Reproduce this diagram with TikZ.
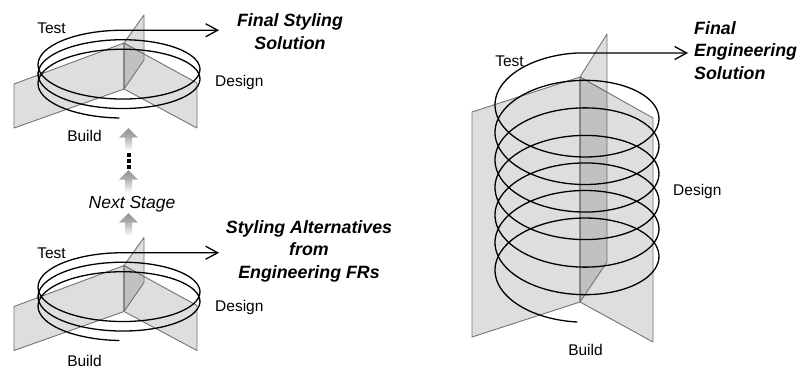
\documentclass[tikz,border=0pt]{standalone}
\usepackage{fontspec}
\setmainfont{Liberation Sans}
\usetikzlibrary{arrows.meta}
\tikzset{
  wing/.style={fill=black, fill opacity=0.13, draw=black!55, line width=0.9pt, line join=round},
  coil/.style={draw=black, line width=1.3pt, line cap=round, line join=round},
  outarrow/.style={-{Straight Barb[length=12pt,width=13pt,line width=1.3pt]}},
  lbl/.style={font=\fontsize{15.5}{18}\selectfont, inner sep=0pt, anchor=base},
  ttl/.style={font=\fontsize{17.8}{22.5}\selectfont\bfseries\itshape, inner sep=0pt, anchor=base},
  stagearrow/.pic={
    \shade[top color=black!30, bottom color=white] (-3.5,9) rectangle (3.5,23);
    \shade[top color=black!42, bottom color=black!32] (0,0) -- (9.5,9.5) -- (-9.5,9.5) -- cycle;
  }
}
\begin{document}
\begin{tikzpicture}[x=1pt,y=-1pt]
\useasboundingbox (0,0) rectangle (803,370);

% ---------- small cycle: final styling ----------
\begin{scope}
  \draw[wing] (14,84) -- (124,43) -- (124,89) -- (14,128) -- cycle;
  \draw[wing] (124,43) -- (197,83) -- (197,128) -- (124,89) -- cycle;
  \draw[wing] (124,43) -- (144,15) -- (144,60) -- (124,89) -- cycle;
  \coordinate (fsTip) at (219,30.25);
  \draw[coil, outarrow] plot[smooth, domain=0:15.708, samples=150, variable=\t]
    ({119-81*sin(\t r)},{86+32*cos(\t r)-1.512*\t}) -- (fsTip);
\end{scope}
\node[lbl] (fsTest) at (51.5,33.5) {Test};
\node[lbl, anchor=base west] (fsDesign) at (215,86) {Design};
\node[lbl] (fsBuild) at (84.5,141) {Build};
% base anchor of a multi-line node sits on its last line
\node[ttl, align=center] (fsTitle) at (290,49.3) {Final Styling\\Solution};

% ---------- stage transition ----------
\pic (stA) at (128.5,128) {stagearrow};
\foreach \yy in {154.5,160.5,166.5}
  \fill[black] (126.5,\yy-2) rectangle (130.5,\yy+2);
\pic (stB) at (128.5,170) {stagearrow};
\node[lbl, font=\fontsize{17.5}{20}\selectfont\itshape] (nextStage) at (132,208) {Next Stage};
\pic (stC) at (128.5,213) {stagearrow};

% ---------- small cycle: styling alternatives ----------
\begin{scope}[yshift=-222.5pt]
  \draw[wing] (14,84) -- (124,43) -- (124,89) -- (14,128) -- cycle;
  \draw[wing] (124,43) -- (197,83) -- (197,128) -- (124,89) -- cycle;
  \draw[wing] (124,43) -- (144,15) -- (144,60) -- (124,89) -- cycle;
  \coordinate (saTip) at (219,30.25);
  \draw[coil, outarrow] plot[smooth, domain=0:15.708, samples=150, variable=\t]
    ({119-81*sin(\t r)},{86+32*cos(\t r)-1.512*\t}) -- (saTip);
\end{scope}
\node[lbl] (saTest) at (51.5,258.5) {Test};
\node[lbl, anchor=base west] (saDesign) at (215,311.5) {Design};
\node[lbl] (saBuild) at (84.5,366.5) {Build};
\node[ttl, align=center] (saTitle) at (309,278) {Styling Alternatives\\from\\Engineering FRs};

% ---------- large cycle: final engineering ----------
\draw[wing] (472,112) -- (580,77) -- (580,302) -- (472,337) -- cycle;
\draw[wing] (580,77) -- (653,118) -- (653,342) -- (580,302) -- cycle;
\draw[wing] (580,77) -- (607,34) -- (607,262) -- (580,302) -- cycle;
\coordinate (feTip) at (688,53);
\draw[coil, outarrow] plot[smooth, domain=0:40.841, samples=420, variable=\t]
  ({577-82*sin(\t r)},{277+45*cos(\t r)-4.383*\t}) -- (feTip);
\node[lbl] (feTest) at (509.5,66.7) {Test};
\node[lbl, anchor=base west] (feDesign) at (673,195) {Design};
\node[lbl] (feBuild) at (585.5,355) {Build};
\node[ttl, align=left, anchor=base west] (feTitle) at (694,79) {Final\\Engineering\\Solution};
\end{tikzpicture}
\end{document}
